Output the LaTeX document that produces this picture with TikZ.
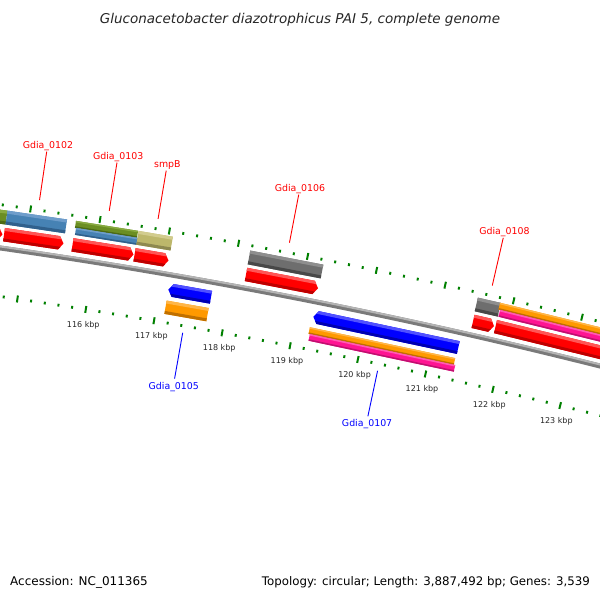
\documentclass[tikz,border=0pt]{standalone}
\usepackage{fontspec}
\setmainfont{DejaVu Sans}
\definecolor{cred}{HTML}{FF0000}\definecolor{credl}{HTML}{FF5555}\definecolor{credd}{HTML}{BE0000}
\definecolor{csteel}{HTML}{4682B4}\definecolor{csteell}{HTML}{6E9DCB}\definecolor{csteeld}{HTML}{30608C}
\definecolor{coliv}{HTML}{6B8E23}\definecolor{colivl}{HTML}{88AA40}\definecolor{colivd}{HTML}{4C6A14}
\definecolor{ckhak}{HTML}{BDB76B}\definecolor{ckhakl}{HTML}{D2CC8E}\definecolor{ckhakd}{HTML}{8E8950}
\definecolor{cgrey}{HTML}{6E6E6E}\definecolor{cgreyl}{HTML}{8E8E8E}\definecolor{cgreyd}{HTML}{484848}
\definecolor{cblue}{HTML}{0000FF}\definecolor{cbluel}{HTML}{5050FF}\definecolor{cblued}{HTML}{0000B0}
\definecolor{corng}{HTML}{FF9900}\definecolor{corngl}{HTML}{FFB648}\definecolor{corngd}{HTML}{C07000}
\definecolor{cpink}{HTML}{FF1493}\definecolor{cpinkl}{HTML}{FF5CB4}\definecolor{cpinkd}{HTML}{C01070}
\definecolor{bbdark}{HTML}{7A7A7A}\definecolor{bblight}{HTML}{B4B4B4}
\definecolor{tickgreen}{HTML}{008000}\definecolor{ticktext}{HTML}{262626}
\tikzset{
  tickmark/.style={line width=2pt,tickgreen},
  ticklbl/.style={font=\fontsize{8}{9}\selectfont,text=ticktext,inner sep=0pt,anchor=center},
  fline/.style={line width=0.9pt,cred},
  rline/.style={line width=0.9pt,cblue},
  flbl/.style={font=\fontsize{9.4}{11}\selectfont,text=cred,anchor=base,inner sep=0pt,yshift=3.5pt,xshift=1.2pt},
  rlbl/.style={font=\fontsize{9.4}{11}\selectfont,text=cblue,anchor=base,inner sep=0pt,yshift=-10.7pt,xshift=-0.8pt},
}
\def\rFi{5807}\def\rFo{5820.5}
\def\rCi{5824}\def\rCo{5838}\def\rCm{5831}
\def\rRi{5778.5}\def\rRo{5791.5}
\def\rKi{5760.5}\def\rKo{5774}\def\rKm{5767.25}
% point at angle #2 (deg), radius #3 around the circle centre
\newcommand\Pt[3]{%
  \edef\tmpx{\fpeval{round(-818+(#3)*cosd(#2),3)}}%
  \edef\tmpy{\fpeval{round(-5390+(#3)*sind(#2),3)}}%
  \coordinate (#1) at (\tmpx pt,\tmpy pt);}
% plain box: xL xR rin rout body light dark
\newcommand\gbox[7]{%
  \edef\myM{\fpeval{((#3)+(#4))/2}}%
  \edef\myL{\fpeval{round(acosd(((#1)+818)/\myM),5)}}%
  \edef\myR{\fpeval{round(acosd(((#2)+818)/\myM),5)}}%
  \edef\myH{\fpeval{((#4)-(#3))*0.22}}%
  \Pt{b1}{\myL}{#3}\Pt{b2}{\myL}{#4}\Pt{b3}{\myR}{#4}\Pt{b4}{\myR}{#3}%
  \Pt{b5}{\myL}{#4-\myH}\Pt{b6}{\myR}{#4-\myH}%
  \Pt{b7}{\myL}{#3+\myH}\Pt{b8}{\myR}{#3+\myH}%
  \fill[#5] (b1)--(b2)--(b3)--(b4)--cycle;
  \fill[#6] (b5)--(b2)--(b3)--(b6)--cycle;
  \fill[#7] (b1)--(b7)--(b8)--(b4)--cycle;}
% forward arrow: xL xTip rin rout body light dark
\newcommand\farrow[7]{%
  \edef\myM{\fpeval{((#3)+(#4))/2}}%
  \edef\myL{\fpeval{round(acosd(((#1)+818)/\myM),5)}}%
  \edef\myT{\fpeval{round(acosd(((#2)+818)/\myM),5)}}%
  \edef\myS{\fpeval{round(\myT+4.5/\myM*180/pi,5)}}%
  \edef\myH{\fpeval{((#4)-(#3))*0.22}}%
  \Pt{a1}{\myL}{#3}\Pt{a2}{\myL}{#4}\Pt{a3}{\myS}{#4}\Pt{a4}{\myT}{\myM}\Pt{a5}{\myS}{#3}%
  \fill[#5] (a1)--(a2)--(a3)--(a4)--(a5)--cycle;
  \begin{scope}
    \clip (a1)--(a2)--(a3)--(a4)--(a5)--cycle;
    \Pt{c1}{\myL+0.05}{#4+1}\Pt{c2}{\myT-0.05}{#4+1}\Pt{c3}{\myT-0.05}{#4-\myH}\Pt{c4}{\myL+0.05}{#4-\myH}%
    \fill[#6] (c1)--(c2)--(c3)--(c4)--cycle;
    \Pt{c5}{\myL+0.05}{#3-1}\Pt{c6}{\myT-0.05}{#3-1}\Pt{c7}{\myT-0.05}{#3+\myH}\Pt{c8}{\myL+0.05}{#3+\myH}%
    \fill[#7] (c5)--(c6)--(c7)--(c8)--cycle;
  \end{scope}}
% reverse arrow: xTip xR rin rout body light dark
\newcommand\rarrow[7]{%
  \edef\myM{\fpeval{((#3)+(#4))/2}}%
  \edef\myT{\fpeval{round(acosd(((#1)+818)/\myM),5)}}%
  \edef\myR{\fpeval{round(acosd(((#2)+818)/\myM),5)}}%
  \edef\myS{\fpeval{round(\myT-4.5/\myM*180/pi,5)}}%
  \edef\myH{\fpeval{((#4)-(#3))*0.22}}%
  \Pt{a1}{\myT}{\myM}\Pt{a2}{\myS}{#4}\Pt{a3}{\myR}{#4}\Pt{a4}{\myR}{#3}\Pt{a5}{\myS}{#3}%
  \fill[#5] (a1)--(a2)--(a3)--(a4)--(a5)--cycle;
  \begin{scope}
    \clip (a1)--(a2)--(a3)--(a4)--(a5)--cycle;
    \Pt{c1}{\myT+0.05}{#4+1}\Pt{c2}{\myR-0.05}{#4+1}\Pt{c3}{\myR-0.05}{#4-\myH}\Pt{c4}{\myT+0.05}{#4-\myH}%
    \fill[#6] (c1)--(c2)--(c3)--(c4)--cycle;
    \Pt{c5}{\myT+0.05}{#3-1}\Pt{c6}{\myR-0.05}{#3-1}\Pt{c7}{\myR-0.05}{#3+\myH}\Pt{c8}{\myT+0.05}{#3+\myH}%
    \fill[#7] (c5)--(c6)--(c7)--(c8)--cycle;
  \end{scope}}
% forward label: x1 x2 (CDS) text name
\newcommand\flabel[4]{%
  \edef\myA{\fpeval{round((acosd(((#1)+818)/5813.75)+acosd(((#2)+818)/5813.75))/2,5)}}%
  \Pt{#4a}{\myA}{5853}\Pt{#4b}{\myA}{5902}%
  \draw[fline] (#4a)--(#4b);
  \node[flbl] (#4) at (#4b) {#3};}
% reverse label
\newcommand\rlabel[4]{%
  \edef\myA{\fpeval{round((acosd(((#1)+818)/5785)+acosd(((#2)+818)/5785))/2,5)}}%
  \Pt{#4a}{\myA}{5745}\Pt{#4b}{\myA}{5698.5}%
  \draw[rline] (#4a)--(#4b);
  \node[rlbl] (#4) at (#4b) {#3};}
\begin{document}
\begin{tikzpicture}[x=1pt,y=1pt]
\useasboundingbox (0,0) rectangle (600,600);
\fill[white] (0,0) rectangle (600,600);
\clip (0,0) rectangle (600,600);
% backbone
\edef\bA{\fpeval{round(acosd((-20+818)/5800),5)}}
\edef\bB{\fpeval{round(acosd((620+818)/5800),5)}}
\Pt{bb1}{\bA}{5800}
\draw[line width=5pt,bbdark] (bb1) arc[start angle=\bA,end angle=\bB,radius=5800pt];
\Pt{bb2}{\bA}{5801.5}
\draw[line width=2pt,bblight] (bb2) arc[start angle=\bA,end angle=\bB,radius=5801.5pt];
% ticks
\foreach \i in {0,...,50}{%
  \edef\myA{\fpeval{round(80.96-(0.2*\i-2)*0.689,5)}}%
  \edef\myQ{\fpeval{\i-5*trunc(\i/5)}}%
  \ifnum\myQ=0
    \Pt{t1}{\myA}{5839.5}\Pt{t2}{\myA}{5846.5}\draw[tickmark] (t1)--(t2);
    \Pt{t3}{\myA}{5748.5}\Pt{t4}{\myA}{5755.5}\draw[tickmark] (t3)--(t4);
  \else
    \Pt{t1}{\myA}{5841.6}\Pt{t2}{\myA}{5844.4}\draw[tickmark] (t1)--(t2);
    \Pt{t3}{\myA}{5750.6}\Pt{t4}{\myA}{5753.4}\draw[tickmark] (t3)--(t4);
  \fi}
\foreach \k in {116,...,123}{%
  \edef\myA{\fpeval{round(80.96-(\k-116)*0.689,5)}}%
  \Pt{tl}{\myA}{5736}%
  \node[ticklbl] (kbp\k) at (tl) {\k\ kbp};}
% forward CDS
\farrow{-60}{2.5}{\rFi}{\rFo}{cred}{credl}{credd}
\farrow{4}{63.5}{\rFi}{\rFo}{cred}{credl}{credd}
\farrow{72.5}{133.5}{\rFi}{\rFo}{cred}{credl}{credd}
\farrow{134.5}{168.5}{\rFi}{\rFo}{cred}{credl}{credd}
\farrow{246}{318}{\rFi}{\rFo}{cred}{credl}{credd}
\farrow{473}{494}{\rFi}{\rFo}{cred}{credl}{credd}
\farrow{495.5}{640}{\rFi}{\rFo}{cred}{credl}{credd}
% outer COG
\gbox{-60}{6.5}{\rCi}{\rCo}{coliv}{colivl}{colivd}
\gbox{6.5}{66}{\rCi}{\rCo}{csteel}{csteell}{csteeld}
\gbox{75.5}{137.5}{\rCm}{\rCo}{coliv}{colivl}{colivd}
\gbox{75.5}{137.5}{\rCi}{\rCm}{csteel}{csteell}{csteeld}
\gbox{137.5}{171.7}{\rCi}{\rCo}{ckhak}{ckhakl}{ckhakd}
\gbox{249}{322}{\rCi}{\rCo}{cgrey}{cgreyl}{cgreyd}
\gbox{476.3}{499.3}{\rCi}{\rCo}{cgrey}{cgreyl}{cgreyd}
\gbox{499.3}{643}{\rCm}{\rCo}{corng}{corngl}{corngd}
\gbox{499.3}{643}{\rCi}{\rCm}{cpink}{cpinkl}{cpinkd}
% reverse CDS
\rarrow{168.3}{211}{\rRi}{\rRo}{cblue}{cbluel}{cblued}
\rarrow{313.3}{458.3}{\rRi}{\rRo}{cblue}{cbluel}{cblued}
% inner COG
\gbox{165.5}{207.5}{\rKi}{\rKo}{corng}{corngl}{corngd}
\gbox{309.2}{454.5}{\rKm}{\rKo}{corng}{corngl}{corngd}
\gbox{309.2}{454.5}{\rKi}{\rKm}{cpink}{cpinkl}{cpinkd}
% gene labels
\flabel{4}{63.5}{Gdia\_0102}{g102}
\flabel{72.5}{133.5}{Gdia\_0103}{g103}
\flabel{134.5}{168.5}{smpB}{gsmpB}
\flabel{246}{318}{Gdia\_0106}{g106}
\flabel{473}{494}{Gdia\_0108}{g108}
\rlabel{168.3}{211}{Gdia\_0105}{g105}
\rlabel{313.3}{458.3}{Gdia\_0107}{g107}
% title and footer
\node[anchor=base,inner sep=0pt,font=\fontsize{13.5}{16}\selectfont\itshape,text=black!85] (title) at (300,576.7) {Gluconacetobacter diazotrophicus PAI 5, complete genome};
\node[anchor=base west,inner sep=0pt,font=\fontsize{12}{14}\selectfont] (acc) at (10,14) {Accession: NC\_011365};
\node[anchor=base east,inner sep=0pt,font=\fontsize{11.8}{14}\selectfont] (topo) at (590,14) {Topology: circular; Length: 3,887,492 bp; Genes: 3,539};
\end{tikzpicture}
\end{document}
